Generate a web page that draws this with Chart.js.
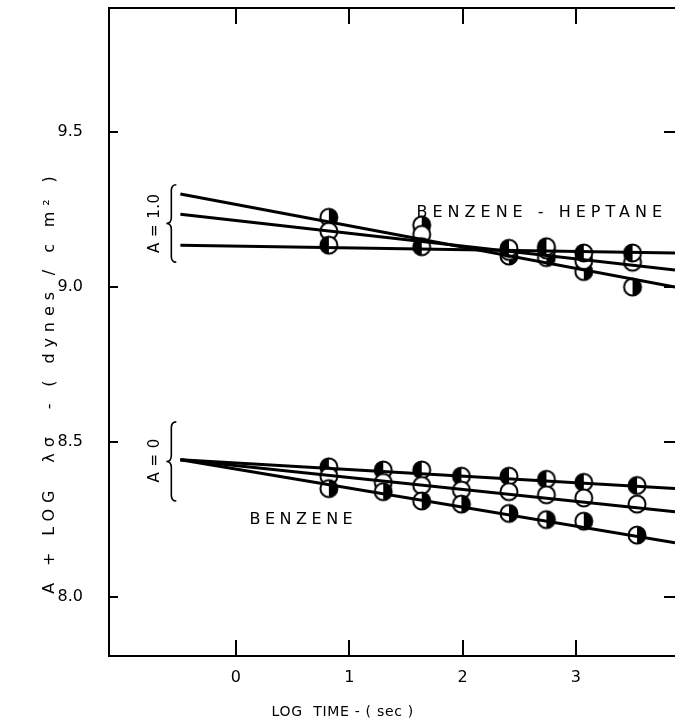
<!DOCTYPE html>
<html>
<head>
<meta charset="utf-8">
<script src="https://cdn.jsdelivr.net/npm/chart.js@4.4.0/dist/chart.umd.min.js"></script>
<style>
  html, body { margin: 0; padding: 0; background: #fff; overflow: hidden; }
  canvas { display: block; }
</style>
</head>
<body>
<canvas id="c" width="675" height="725"></canvas>
<script>
// log time (sec) of each measurement
const timesBenzene = [0.82, 1.30, 1.64, 1.99, 2.41, 2.74, 3.07, 3.54];
const timesMixed = [0.82, 1.64, 2.41, 2.74, 3.07, 3.50];

// benzene, A = 0
const benzeneTop = [8.42, 8.41, 8.41, 8.39, 8.39, 8.38, 8.37, 8.36];
const benzeneMid = [8.39, 8.37, 8.36, 8.345, 8.34, 8.33, 8.32, 8.30];
const benzeneLow = [8.35, 8.34, 8.31, 8.30, 8.27, 8.25, 8.245, 8.20];

// benzene - heptane, A = 1.0
const mixedSteep = [9.225, 9.20, 9.10, 9.095, 9.05, 9.00];
const mixedMid = [9.18, 9.17, 9.115, 9.12, 9.085, 9.08];
const mixedFlat = [9.135, 9.13, 9.125, 9.13, 9.11, 9.11];

// straight fits: value at fitFrom and at fitTo
const fitFrom = -0.49;
const fitTo = 3.875;
const fitBenzene = [[8.443, 8.35], [8.443, 8.275], [8.443, 8.175]];
const fitMixed = [[9.30, 9.0], [9.235, 9.055], [9.135, 9.11]];

const xTicks = [0, 1, 2, 3];
const yTicks = [8.0, 8.5, 9.0, 9.5];

const FONT = '"DejaVu Sans", sans-serif';

// half-shaded circle markers
function marker(kind) {
  const r = 8.5, s = 22, m = s / 2;
  const c = document.createElement('canvas');
  c.width = c.height = s;
  const g = c.getContext('2d');
  g.fillStyle = '#fff';
  g.beginPath(); g.arc(m, m, r, 0, 2 * Math.PI); g.fill();
  if (kind !== 'open') {
    g.fillStyle = '#000';
    g.beginPath();
    if (kind === 'left') g.arc(m, m, r, Math.PI / 2, 3 * Math.PI / 2);
    else g.arc(m, m, r, -Math.PI / 2, Math.PI / 2);
    g.closePath(); g.fill();
  }
  g.lineWidth = 2; g.strokeStyle = '#000';
  g.beginPath(); g.arc(m, m, r, 0, 2 * Math.PI); g.stroke();
  return c;
}
const mLeft = marker('left'), mRight = marker('right'), mOpen = marker('open');

function pts(xs, ys) { return xs.map((x, i) => ({ x, y: ys[i] })); }
function fitLine(pair) {
  return {
    type: 'line', data: [{ x: fitFrom, y: pair[0] }, { x: fitTo, y: pair[1] }],
    borderColor: '#000', borderWidth: 3, pointRadius: 0, showLine: true, fill: false
  };
}
function series(xs, ys, style) {
  return {
    data: pts(xs, ys), pointStyle: style, pointRadius: 9, showLine: false,
    borderColor: '#000', backgroundColor: '#fff'
  };
}

const datasets = [
  ...fitMixed.map(fitLine),
  ...fitBenzene.map(fitLine),
  series(timesMixed, mixedFlat, mLeft),
  series(timesMixed, mixedMid, mOpen),
  series(timesMixed, mixedSteep, mRight),
  series(timesBenzene, benzeneLow, mRight),
  series(timesBenzene, benzeneMid, mOpen),
  series(timesBenzene, benzeneTop, mLeft)
];

function brace(ctx, px, top, bottom) {
  const mid = (top + bottom) / 2, w = 5;
  ctx.beginPath();
  ctx.moveTo(px + w, top);
  ctx.quadraticCurveTo(px, top, px, top + 6);
  ctx.lineTo(px, mid - 6);
  ctx.quadraticCurveTo(px, mid, px - w, mid);
  ctx.quadraticCurveTo(px, mid, px, mid + 6);
  ctx.lineTo(px, bottom - 6);
  ctx.quadraticCurveTo(px, bottom, px + w, bottom);
  ctx.stroke();
}

function spacedText(ctx, text, x, y, spacing, align) {
  ctx.letterSpacing = spacing + 'px';
  const w = ctx.measureText(text).width - spacing;
  let sx = x;
  if (align === 'center') sx = x - w / 2;
  else if (align === 'right') sx = x - w;
  ctx.textAlign = 'left';
  ctx.fillText(text, sx, y);
  ctx.letterSpacing = '0px';
}

const decor = {
  id: 'decor',
  afterDraw(chart) {
    const { ctx, chartArea: a, scales: { x, y } } = chart;
    ctx.save();
    ctx.strokeStyle = '#000';
    ctx.fillStyle = '#000';
    ctx.lineWidth = 2;
    // top frame line
    ctx.beginPath();
    ctx.moveTo(a.left - 1, a.top); ctx.lineTo(a.right, a.top);
    // inward ticks on all sides
    xTicks.forEach(v => {
      const px = Math.round(x.getPixelForValue(v));
      ctx.moveTo(px, a.bottom); ctx.lineTo(px, a.bottom - 16);
      ctx.moveTo(px, a.top); ctx.lineTo(px, a.top + 16);
    });
    yTicks.forEach(v => {
      const py = Math.round(y.getPixelForValue(v));
      ctx.moveTo(a.left, py); ctx.lineTo(a.left + 9, py);
      ctx.moveTo(a.right, py); ctx.lineTo(a.right - 11, py);
    });
    ctx.stroke();

    // braces grouping the two sets of curves
    ctx.lineWidth = 1.6;
    const bx = x.getPixelForValue(-0.57);
    brace(ctx, bx, y.getPixelForValue(9.33), y.getPixelForValue(9.08));
    brace(ctx, bx, y.getPixelForValue(8.565), y.getPixelForValue(8.31));

    ctx.textBaseline = 'middle';
    ctx.font = '15px ' + FONT;
    // A labels, rotated
    const ax = x.getPixelForValue(-0.71);
    [['A = 1.0', 9.205], ['A = 0', 8.44]].forEach(([t, v]) => {
      ctx.save();
      ctx.translate(ax, y.getPixelForValue(v));
      ctx.rotate(-Math.PI / 2);
      spacedText(ctx, t, 0, 0, 0.5, 'center');
      ctx.restore();
    });

    // curve labels
    ctx.font = '16px ' + FONT;
    spacedText(ctx, 'BENZENE - HEPTANE', a.right - 13, y.getPixelForValue(9.24), 5, 'right');
    spacedText(ctx, 'BENZENE', x.getPixelForValue(0.12), y.getPixelForValue(8.25), 4.5, 'left');

    // axis titles
    ctx.font = '14px ' + FONT;
    spacedText(ctx, 'LOG  TIME - ( sec )', x.getPixelForValue(0.94), 712, 0.7, 'center');
    ctx.save();
    ctx.translate(50, 385);
    ctx.rotate(-Math.PI / 2);
    ctx.font = '16px ' + FONT;
    spacedText(ctx, 'A + LOG  λσ  - ( dynes / c m² )', 0, 0, 5.9, 'center');
    ctx.restore();
    ctx.restore();
  }
};

// keep the plot frame exactly where the axes put it
function noScalePadding(s) {
  s.paddingTop = 0; s.paddingBottom = 0; s.paddingLeft = 0; s.paddingRight = 0;
}

new Chart(document.getElementById('c'), {
  type: 'scatter',
  data: { datasets },
  options: {
    responsive: false,
    animation: false,
    events: [],
    layout: { autoPadding: false, padding: { top: 8, left: 0, right: 0, bottom: 0 } },
    plugins: { legend: { display: false }, tooltip: { enabled: false } },
    scales: {
      x: {
        type: 'linear', min: -1.12, max: 3.875,
        afterBuildTicks: s => { s.ticks = xTicks.map(v => ({ value: v })); },
        afterFit: s => { s.height = 69; noScalePadding(s); },
        grid: { display: false, drawTicks: false },
        border: { display: true, color: '#000', width: 2 },
        ticks: { color: '#000', padding: 12, font: { family: FONT, size: 16 },
                 callback: v => String(v) }
      },
      y: {
        type: 'linear', min: 7.81, max: 9.9,
        afterBuildTicks: s => { s.ticks = yTicks.map(v => ({ value: v })); },
        afterFit: s => { s.width = 109; noScalePadding(s); },
        grid: { display: false, drawTicks: false },
        border: { display: true, color: '#000', width: 2 },
        ticks: { color: '#000', padding: 26, font: { family: FONT, size: 16 },
                 callback: v => v.toFixed(1) }
      }
    }
  },
  plugins: [decor]
});
</script>
</body>
</html>
